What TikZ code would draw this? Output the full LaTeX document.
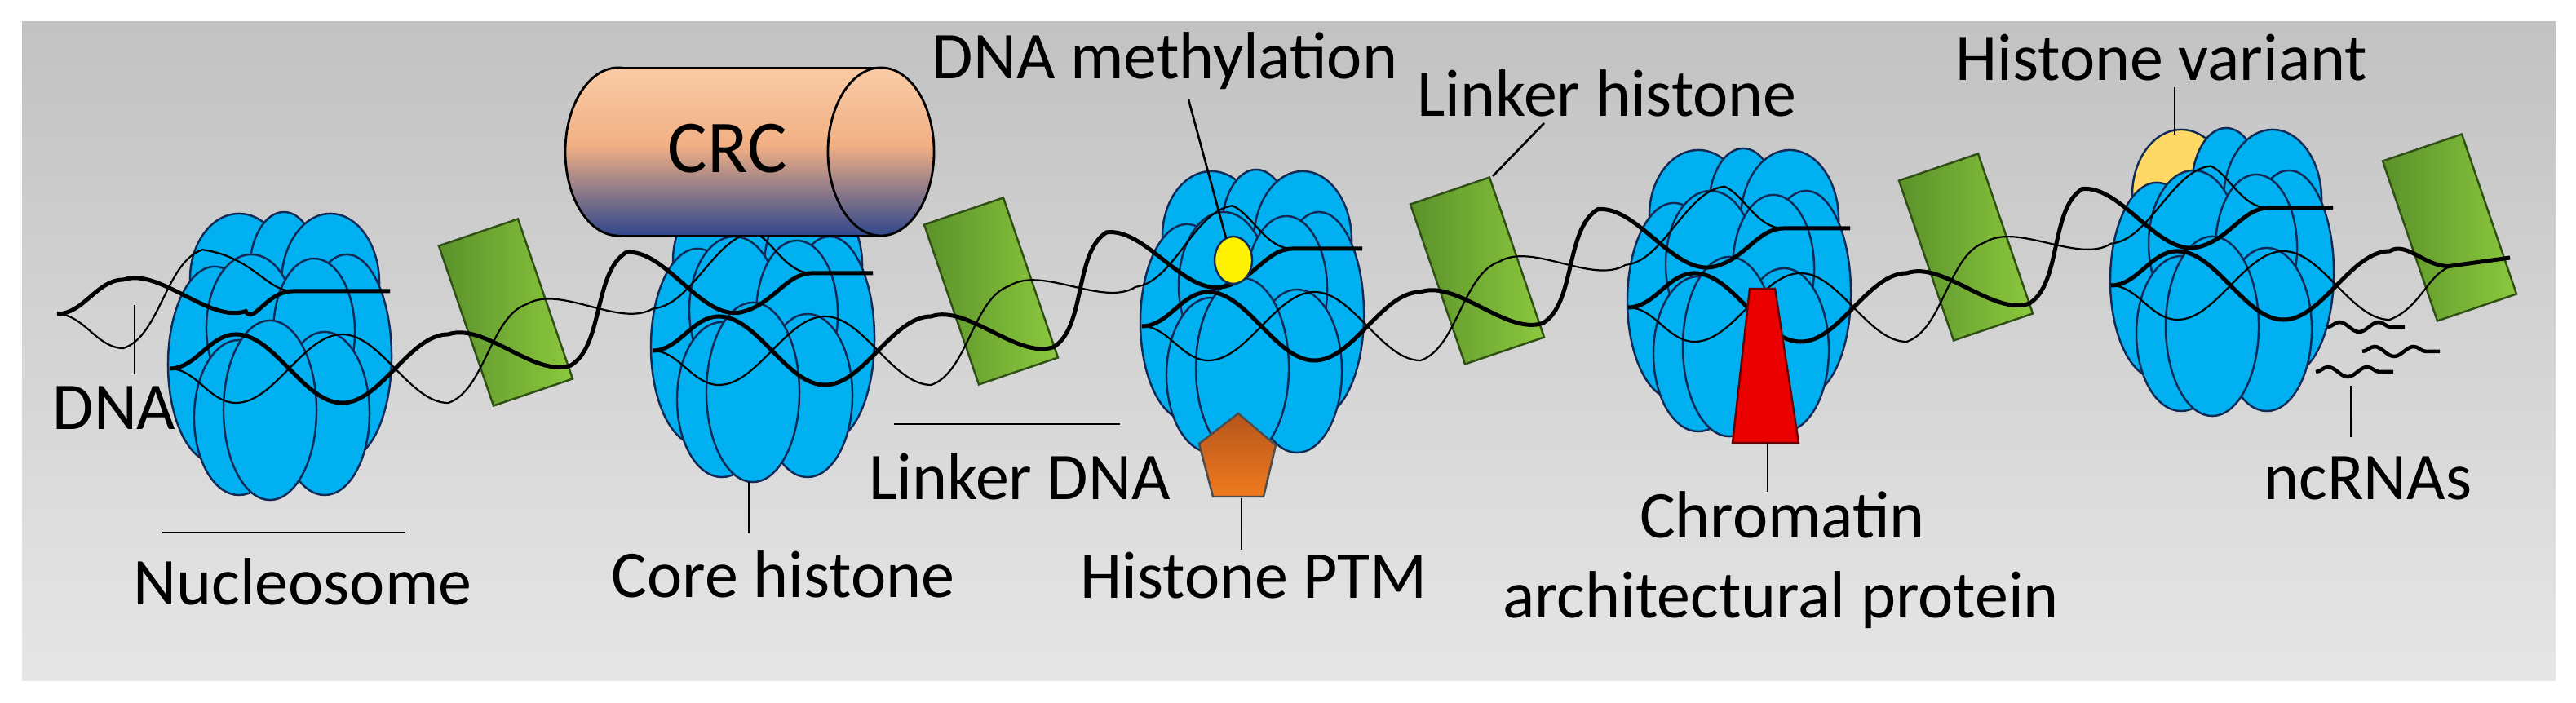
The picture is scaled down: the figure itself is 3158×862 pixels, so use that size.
\documentclass[tikz,border=0pt]{standalone}
\usepackage{fontspec}
\setmainfont{Carlito}
\usetikzlibrary{decorations.pathmorphing}
\definecolor{nucblue}{HTML}{00B0F0}
\definecolor{nucedge}{HTML}{102a55}
\definecolor{lhdark}{HTML}{5A922A}
\definecolor{lhlight}{HTML}{8CC83E}
\definecolor{lhedge}{HTML}{2F4F14}
\definecolor{bgtop}{HTML}{C2C2C2}
\definecolor{bgbot}{HTML}{E6E6E6}
\definecolor{crctop}{HTML}{F9CBA6}
\definecolor{crcmid}{HTML}{F2B084}
\definecolor{crcbot}{HTML}{2F468C}
\definecolor{ptmtop}{HTML}{B5561C}
\definecolor{ptmbot}{HTML}{F07A1E}
\definecolor{varyellow}{HTML}{FFD966}
\pgfdeclareverticalshading{crcshade}{100bp}{color(0bp)=(crcbot); color(25bp)=(crcbot); color(40bp)=(crcbot!45!crcmid); color(52bp)=(crcmid); color(75bp)=(crctop); color(100bp)=(crctop)}
\tikzset{
 lobe/.style={fill=nucblue,draw=nucedge,line width=0.7pt},
 strandA/.style={draw=black,line width=0.05cm,decorate,decoration={snake,amplitude=0.42cm,segment length=2.6cm}},
 strandB/.style={draw=black,line width=0.022cm,decorate,decoration={snake,amplitude=0.42cm,segment length=2.6cm,mirror}},
 lbl/.style={font=\fontsize{23.3}{28}\selectfont,anchor=base,inner sep=0pt},
 lead/.style={draw=black,line width=0.75pt},
 lhbox/.style={left color=lhdark,right color=lhlight,draw=lhedge,line width=0.7pt},
 crcbody/.style={shading=crcshade},
 rna/.style={draw=black,line width=0.045cm,decorate,decoration={snake,amplitude=0.06cm,segment length=0.48cm}}
}
\newcommand\nucl[3]{%
\begin{scope}[shift={(#1,#2)}]
 \path[lobe,fill=#3] (-50,-95) ellipse[x radius=0.60cm,y radius=0.80cm];
 \path[lobe] (5,-105) ellipse[x radius=0.42cm,y radius=0.72cm];
 \path[lobe] (62,-90) ellipse[x radius=0.60cm,y radius=0.85cm];
 \path[lobe] (-80,10) ellipse[x radius=0.57cm,y radius=1.20cm];
 \path[lobe] (82,0) ellipse[x radius=0.55cm,y radius=1.25cm];
 \path[lobe] (-35,-35) ellipse[x radius=0.55cm,y radius=0.90cm];
 \path[lobe] (42,-30) ellipse[x radius=0.50cm,y radius=0.90cm];
 \path[lobe] (-50,75) ellipse[x radius=0.55cm,y radius=0.95cm];
 \path[lobe] (55,70) ellipse[x radius=0.55cm,y radius=1.00cm];
 \path[lobe] (-12,66) ellipse[x radius=0.57cm,y radius=1.10cm];
\end{scope}}
\newcommand\lhist[1]{%
\begin{scope}[shift={#1}]
 \path[lhbox] (-82,-81.5) -- (15,-114.5) -- (82,81.5) -- (-15,114.5) -- cycle;
\end{scope}}
% #1 lower-left, #2 lower-right, #3 upper-left, #4 upper-right
\newcommand\dnaseg[4]{%
 \draw[strandB] #1 -- #2 to[out=0,in=180] #3 -- #4;
 \draw[strandA] #1 -- #2 to[out=0,in=180] #3 -- #4;}
\begin{document}
\begin{tikzpicture}[x=0.01cm,y=-0.01cm]
\useasboundingbox (0,0) rectangle (3158,862);
\fill[white] (0,0) rectangle (3158,862);
\shade[top color=bgtop,bottom color=bgbot] (27,27) rectangle (3133,835);
% nucleosomes
\nucl{343}{437}{nucblue}
\nucl{935}{415}{nucblue}
\nucl{1535}{385}{nucblue}
\nucl{2132}{359}{nucblue}
\nucl{2724}{334}{varyellow}
% linker histones
\lhist{(620,383)}
\lhist{(1215,357)}
\lhist{(1811,332)}
\lhist{(2410,303)}
\lhist{(3003,279)}
% DNA
\dnaseg{(70,385)}{(72,385)}{(208,357)}{(478,357)}
\dnaseg{(208,452)}{(478,452)}{(800,335)}{(1070,335)}
\dnaseg{(800,430)}{(1070,430)}{(1400,305)}{(1670,305)}
\dnaseg{(1400,400)}{(1670,400)}{(1996,280)}{(2268,280)}
\dnaseg{(1996,377)}{(2268,377)}{(2588,255)}{(2860,255)}
\dnaseg{(2588,350)}{(2860,350)}{(3075,316)}{(3077,316)}
% CRC cylinder
\path[crcbody,draw=black,line width=0.8pt] (758,186) ellipse[x radius=0.65cm,y radius=1.03cm];
\path[crcbody] (758,83) rectangle (1080,289);
\draw[line width=0.8pt] (758,83) -- (1080,83) (758,289) -- (1080,289);
\path[crcbody,draw=black,line width=0.8pt] (1080,186) ellipse[x radius=0.65cm,y radius=1.03cm];
\node[lbl,font=\fontsize{26}{30}\selectfont] (crc) at (892,212) {CRC};
% methylation, PTM, architectural protein
\path[fill=yellow,draw=nucedge,line width=0.7pt] (1512,319) ellipse[x radius=0.23cm,y radius=0.29cm];
\path[top color=ptmtop,bottom color=ptmbot,draw=black!70,line width=0.7pt] (1518,507) -- (1564,546) -- (1549,609) -- (1487,609) -- (1470,544) -- cycle;
\path[fill=red!92!black,draw=black!60!red,line width=0.7pt] (2145,354) -- (2176,354) -- (2205,543) -- (2124,543) -- cycle;
% ncRNAs
\draw[rna] (2853,401) -- (2948,401);
\draw[rna] (2896,431) -- (2991,431);
\draw[rna] (2839,456) -- (2934,456);
% labels
\node[lbl] (tdna) at (140,527) {DNA};
\node[lbl] (tnuc) at (371,742) {Nucleosome};
\node[lbl] (tcore) at (960,733) {Core histone};
\node[lbl] (tlinkdna) at (1250,613) {Linker DNA};
\node[lbl] (tptm) at (1537,734) {Histone PTM};
\node[lbl] (tmeth) at (1428,97) {DNA methylation};
\node[lbl] (tlh) at (1970,143) {Linker histone};
\node[lbl] (tvar) at (2650,99) {Histone variant};
\node[lbl] (tchrom) at (2185,660) {Chromatin};
\node[lbl] (tarch) at (2183,758) {architectural protein};
\node[lbl] (tnc) at (2903,613) {ncRNAs};
% leader lines
\coordinate (a1) at (165,374); \coordinate (a2) at (165,459);
\draw[lead] (a1) -- (a2);
\coordinate (b1) at (199,653); \coordinate (b2) at (497,653);
\draw[lead] (b1) -- (b2);
\coordinate (c1) at (918,591); \coordinate (c2) at (918,654);
\draw[lead] (c1) -- (c2);
\coordinate (d1) at (1096,520); \coordinate (d2) at (1373,520);
\draw[lead] (d1) -- (d2);
\coordinate (e1) at (1522,611); \coordinate (e2) at (1522,674);
\draw[lead] (e1) -- (e2);
\coordinate (f1) at (1457,122); \coordinate (f2) at (1503,292);
\draw[lead] (f1) -- (f2);
\coordinate (g1) at (1893,151); \coordinate (g2) at (1830,216);
\draw[lead] (g1) -- (g2);
\coordinate (h1) at (2167,543); \coordinate (h2) at (2167,603);
\draw[lead] (h1) -- (h2);
\coordinate (i1) at (2666,107); \coordinate (i2) at (2666,165);
\draw[lead] (i1) -- (i2);
\coordinate (j1) at (2882,473); \coordinate (j2) at (2882,536);
\draw[lead] (j1) -- (j2);
\end{tikzpicture}
\end{document}
